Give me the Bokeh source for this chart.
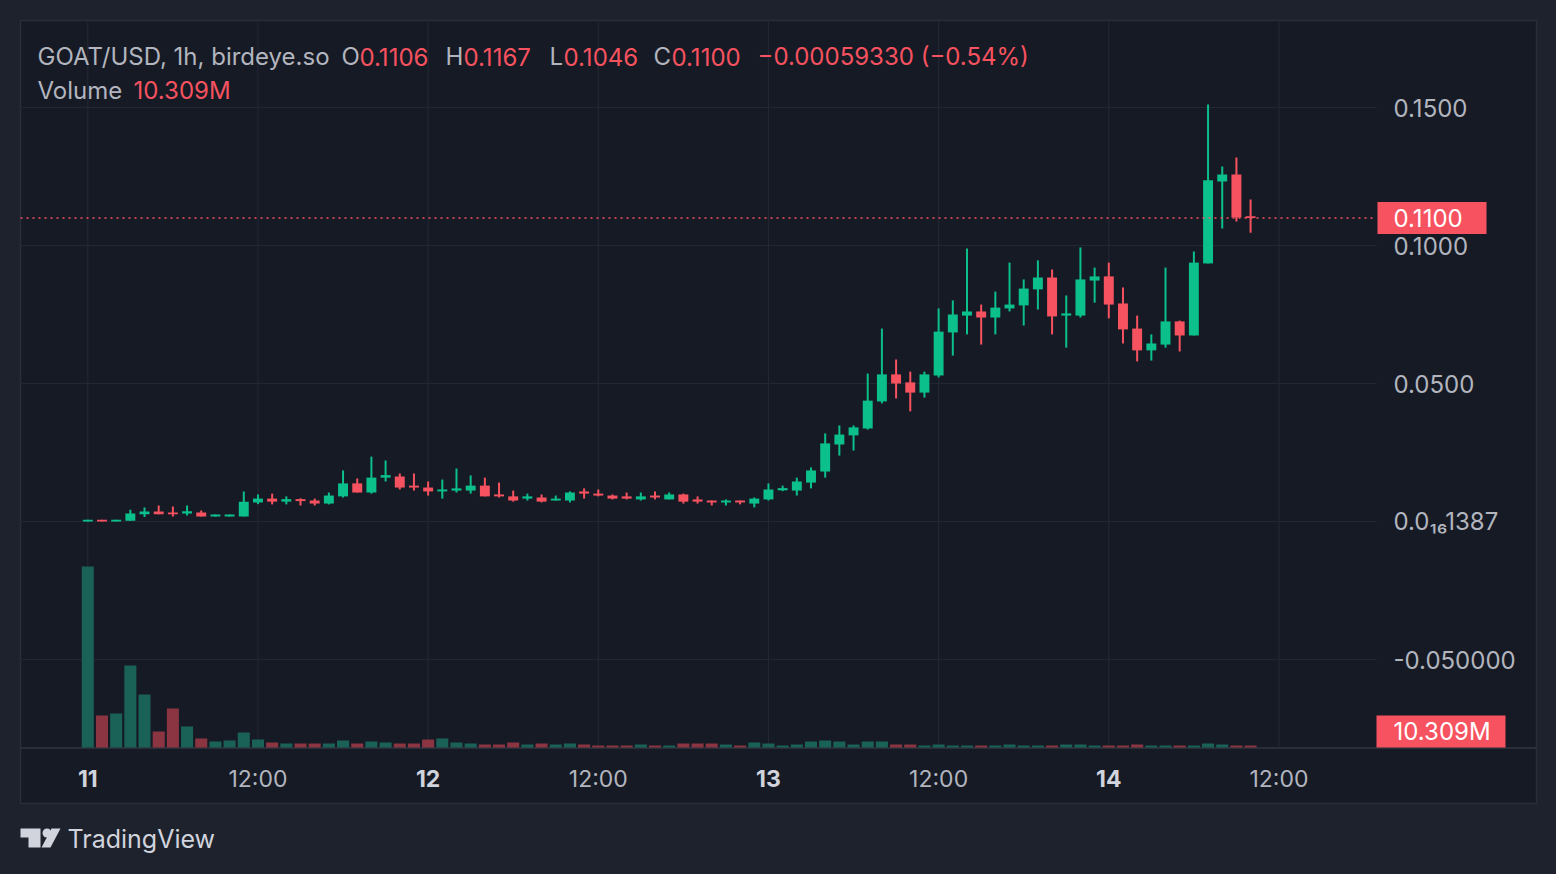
from bokeh.plotting import figure
from bokeh.models import ColumnDataSource, Range1d
from bokeh.core.properties import value
from bokeh.embed import file_html
from bokeh.resources import INLINE

# ---------------- data ----------------
opens = [0.0000, 0.0006, 0.0000, 0.0003, 0.0026, 0.0036, 0.0033, 0.0029, 0.0033, 0.0018,
         0.0018, 0.0018, 0.0069, 0.0083, 0.0072, 0.0081, 0.0076, 0.0065, 0.0091, 0.0138,
         0.0105, 0.0159, 0.0163, 0.0130, 0.0123, 0.0109, 0.0112, 0.0112, 0.0130, 0.0098,
         0.0091, 0.0083, 0.0087, 0.0076, 0.0076, 0.0109, 0.0101, 0.0094, 0.0091, 0.0080,
         0.0094, 0.0080, 0.0098, 0.0080, 0.0076, 0.0069, 0.0076, 0.0065, 0.0080, 0.0113,
         0.0112, 0.0141, 0.0181, 0.0279, 0.0312, 0.0337, 0.0435, 0.0533, 0.0504, 0.0467,
         0.0529, 0.0685, 0.0746, 0.0761, 0.0739, 0.0772, 0.0783, 0.0841, 0.0884, 0.0746,
         0.0746, 0.0873, 0.0888, 0.0790, 0.0699, 0.0620, 0.0641, 0.0725, 0.0674, 0.0935,
         0.1232, 0.1257, 0.1106]
highs = [0.0006, 0.0006, 0.0006, 0.0043, 0.0051, 0.0058, 0.0054, 0.0058, 0.0040, 0.0025,
         0.0025, 0.0109, 0.0098, 0.0101, 0.0091, 0.0084, 0.0083, 0.0105, 0.0185, 0.0156,
         0.0235, 0.0221, 0.0174, 0.0174, 0.0145, 0.0152, 0.0192, 0.0167, 0.0159, 0.0141,
         0.0112, 0.0101, 0.0098, 0.0094, 0.0109, 0.0120, 0.0116, 0.0098, 0.0105, 0.0105,
         0.0109, 0.0105, 0.0101, 0.0091, 0.0076, 0.0080, 0.0076, 0.0087, 0.0138, 0.0130,
         0.0159, 0.0196, 0.0319, 0.0348, 0.0348, 0.0536, 0.0699, 0.0587, 0.0543, 0.0543,
         0.0772, 0.0801, 0.0989, 0.0786, 0.0833, 0.0938, 0.0877, 0.0946, 0.0913, 0.0819,
         0.0993, 0.0920, 0.0938, 0.0848, 0.0746, 0.0678, 0.0920, 0.0728, 0.0978, 0.1511,
         0.1286, 0.1319, 0.1167]
lows = [0.0000, 0.0000, 0.0000, 0.0003, 0.0016, 0.0026, 0.0018, 0.0022, 0.0018, 0.0018,
        0.0018, 0.0018, 0.0063, 0.0062, 0.0062, 0.0058, 0.0058, 0.0062, 0.0087, 0.0105,
        0.0101, 0.0145, 0.0116, 0.0112, 0.0094, 0.0083, 0.0105, 0.0101, 0.0091, 0.0087,
        0.0072, 0.0076, 0.0069, 0.0076, 0.0069, 0.0083, 0.0091, 0.0080, 0.0080, 0.0076,
        0.0080, 0.0080, 0.0065, 0.0065, 0.0058, 0.0058, 0.0062, 0.0051, 0.0076, 0.0110,
        0.0094, 0.0120, 0.0159, 0.0239, 0.0257, 0.0333, 0.0428, 0.0446, 0.0399, 0.0449,
        0.0522, 0.0601, 0.0678, 0.0641, 0.0678, 0.0761, 0.0710, 0.0768, 0.0678, 0.0630,
        0.0739, 0.0793, 0.0736, 0.0645, 0.0580, 0.0583, 0.0630, 0.0616, 0.0674, 0.0935,
        0.1062, 0.1087, 0.1046]
closes = [0.0006, 0.0000, 0.0006, 0.0029, 0.0036, 0.0026, 0.0026, 0.0037, 0.0018, 0.0025,
          0.0025, 0.0072, 0.0083, 0.0072, 0.0081, 0.0074, 0.0065, 0.0094, 0.0138, 0.0105,
          0.0159, 0.0168, 0.0123, 0.0123, 0.0109, 0.0116, 0.0120, 0.0130, 0.0091, 0.0091,
          0.0076, 0.0091, 0.0072, 0.0083, 0.0105, 0.0101, 0.0094, 0.0083, 0.0083, 0.0091,
          0.0087, 0.0098, 0.0072, 0.0072, 0.0069, 0.0076, 0.0069, 0.0083, 0.0116, 0.0121,
          0.0145, 0.0185, 0.0283, 0.0315, 0.0341, 0.0438, 0.0533, 0.0500, 0.0467, 0.0533,
          0.0688, 0.0750, 0.0761, 0.0739, 0.0775, 0.0786, 0.0844, 0.0884, 0.0743, 0.0754,
          0.0877, 0.0888, 0.0786, 0.0696, 0.0620, 0.0645, 0.0725, 0.0674, 0.0938, 0.1236,
          0.1257, 0.1101, 0.1100]
volumes_m = [935.0, 165.2, 175.6, 423.5, 273.8, 82.6, 201.4, 108.5, 46.5, 31.0,
             36.2, 77.5, 41.3, 25.8, 20.7, 20.7, 20.7, 20.7, 36.2, 20.7,
             31.0, 25.8, 20.7, 20.7, 41.3, 46.5, 25.8, 20.7, 15.5, 15.5,
             25.8, 15.5, 20.7, 15.5, 20.7, 15.5, 10.3, 10.3, 10.3, 15.5,
             10.3, 10.3, 20.7, 20.7, 20.7, 15.5, 10.3, 25.8, 20.7, 10.3,
             15.5, 31.0, 36.2, 31.0, 15.5, 31.0, 31.0, 15.5, 15.5, 10.3,
             15.5, 10.3, 10.3, 10.3, 10.3, 15.5, 10.3, 10.3, 10.3, 15.5,
             15.5, 10.3, 10.3, 10.3, 15.5, 10.3, 10.3, 10.3, 10.3, 20.7,
             15.5, 10.3, 10.309]
day_hours = [0, 24, 48, 72]
day_labels = ["11", "12", "13", "14"]
half_hours = [12, 36, 60, 84]
half_labels = ["12:00", "12:00", "12:00", "12:00"]
price_ticks = [0.15, 0.10, 0.05, 0.0, -0.05]
price_tick_labels = ["0.1500", "0.1000", "0.0500", "0.0\u2081\u20861387", "-0.050000"]
symbol_text = "GOAT/USD, 1h, birdeye.so"
change_text = "\u22120.00059330 (\u22120.54%)"

# ---------------- styling / geometry ----------------
OUTER = "#1e222d"
PANEL = "#161a25"
BORDER = "#2a2e39"
GRID = "#232733"
GREEN = "#0bc08a"
RED = "#f7525f"
VGREEN = "#1a6158"
VRED = "#8a3541"
GRAY = "#b2b5be"
LIGHT = "#d1d4dc"
FONT = value("Inter")
W, H = 1556, 874

X0, PXH = 87.3, 340.33 / 24.0      # pixel of hour 0, pixels per hour
Y0, PXP = 521.0, 2760.0            # pixel of price 0, pixels per price unit
VOL_BASE_PX, VPP = 747.0, 935.0 / 181.0   # volume zero pixel, M per pixel


def hx(px):
    return (px - X0) / PXH


def py(pyx):
    return (Y0 - pyx) / PXP


p = figure(width=W, height=H, output_backend="svg", toolbar_location=None,
           x_range=Range1d(hx(0), hx(W)), y_range=Range1d(py(H), py(0)),
           x_axis_location=None, y_axis_location=None, min_border=0,
           background_fill_color=OUTER, border_fill_color=OUTER, outline_line_color=None)
p.grid.visible = False
p.extra_y_ranges = {"vol": Range1d((VOL_BASE_PX - H) * VPP, (VOL_BASE_PX - 0) * VPP)}

# chart panel
p.quad(left=[hx(20)], right=[hx(1536)], top=[py(20)], bottom=[py(803)],
       fill_color=PANEL, line_color=BORDER, line_width=1.5)
p.segment(x0=[hx(20)], x1=[hx(1536)], y0=[py(747.5)], y1=[py(747.5)], line_color=BORDER, line_width=2)

# grid
p.segment(x0=[hx(20)] * len(price_ticks), x1=[hx(1376)] * len(price_ticks),
          y0=price_ticks, y1=price_ticks, line_color=GRID, line_width=1.2)
vg = day_hours + half_hours
p.segment(x0=vg, x1=vg, y0=[py(746)] * len(vg), y1=[py(21)] * len(vg), line_color=GRID, line_width=1.2)

# volume
idx = list(range(len(opens)))
up = [c >= o for o, c in zip(opens, closes)]
vsrc = ColumnDataSource(dict(x=idx, v=volumes_m, c=[VGREEN if u else VRED for u in up]))
p.vbar(x="x", top="v", bottom=0, width=0.85, source=vsrc, fill_color="c", line_color=None, y_range_name="vol")

# candles
csrc = ColumnDataSource(dict(
    x=idx, h=highs, l=lows,
    top=[max(o, c) for o, c in zip(opens, closes)],
    bot=[min(o, c) for o, c in zip(opens, closes)],
    c=[GREEN if u else RED for u in up]))
p.segment(x0="x", x1="x", y0="h", y1="l", source=csrc, line_color="c", line_width=2)
p.vbar(x="x", top="top", bottom="bot", width=0.70, source=csrc, fill_color="c", line_color=None)

# last price line and labels
last = closes[-1]
p.segment(x0=[hx(20)], x1=[hx(1376)], y0=[last], y1=[last], line_color=RED, line_width=1.5, line_dash="2 4")
p.quad(left=[hx(1377)], right=[hx(1486)], top=[last + 16 / PXP], bottom=[last - 16 / PXP],
       fill_color=RED, line_color=None)
p.text(x=[hx(1393)], y=[last], text=[f"{last:.4f}"], text_font=FONT, text_font_size="24px",
       text_color="#ffffff", text_baseline="middle", text_align="left")
p.quad(left=[hx(1376)], right=[hx(1505)], top=[32 * VPP], bottom=[0],
       fill_color=RED, line_color=None, y_range_name="vol")
p.text(x=[hx(1393)], y=[16 * VPP], text=[f"{volumes_m[-1]:.3f}M"], text_font=FONT, text_font_size="24px",
       text_color="#ffffff", text_baseline="middle", text_align="left", y_range_name="vol")

# price axis labels
p.text(x=[hx(1393)] * len(price_ticks), y=price_ticks, text=price_tick_labels, text_font=FONT,
       text_font_size="24px", text_color=GRAY, text_baseline="middle", text_align="left")

# time axis labels
p.text(x=day_hours, y=[py(778)] * 4, text=day_labels, text_font=FONT, text_font_size="23px",
       text_font_style="bold", text_color=LIGHT, text_baseline="middle", text_align="center")
p.text(x=half_hours, y=[py(778)] * 4, text=half_labels, text_font=FONT, text_font_size="23px",
       text_color=GRAY, text_baseline="middle", text_align="center")

# legend header
o_, h_, l_, c_ = opens[-1], highs[-1], lows[-1], closes[-1]
hdr_g = [(37, symbol_text), (341, "O"), (445, "H"), (549, "L"), (653, "C"), (37, "Volume")]
hdr_gy = [56, 56, 56, 56, 56, 90]
hdr_r = [(359, f"{o_:.4f}"), (463, f"{h_:.4f}"), (563, f"{l_:.4f}"), (671, f"{c_:.4f}"),
         (757, change_text), (133, f"{volumes_m[-1]:.3f}M")]
hdr_ry = [56, 56, 56, 56, 56, 90]
p.text(x=[hx(a) for a, _ in hdr_g], y=[py(b) for b in hdr_gy], text=[t for _, t in hdr_g],
       text_font=FONT, text_font_size="24px", text_color=GRAY, text_baseline="middle", text_align="left")
p.text(x=[hx(a) for a, _ in hdr_r], y=[py(b) for b in hdr_ry], text=[t for _, t in hdr_r],
       text_font=FONT, text_font_size="24px", text_color=RED, text_baseline="middle", text_align="left")

# TradingView logo
t_shape = [(20, 828), (40, 828), (40, 847), (28, 847), (28, 837), (20, 837)]
slash = [(51, 828), (60, 828), (50, 847), (41, 847)]
p.patches(xs=[[hx(a) for a, _ in t_shape], [hx(a) for a, _ in slash]],
          ys=[[py(b) for _, b in t_shape], [py(b) for _, b in slash]],
          fill_color=LIGHT, line_color=None)
p.scatter(x=[hx(46.5)], y=[py(832.5)], size=9, fill_color=LIGHT, line_color=None)
p.text(x=[hx(67)], y=[py(838)], text=["TradingView"], text_font=FONT, text_font_size="25px",
       text_color=LIGHT, text_baseline="middle", text_align="left")

html = file_html(p, INLINE)
html = html.replace("<head>", "<head><style>html,body{background:#1e222d;}</style>", 1)
open("out.html", "w").write(html)
